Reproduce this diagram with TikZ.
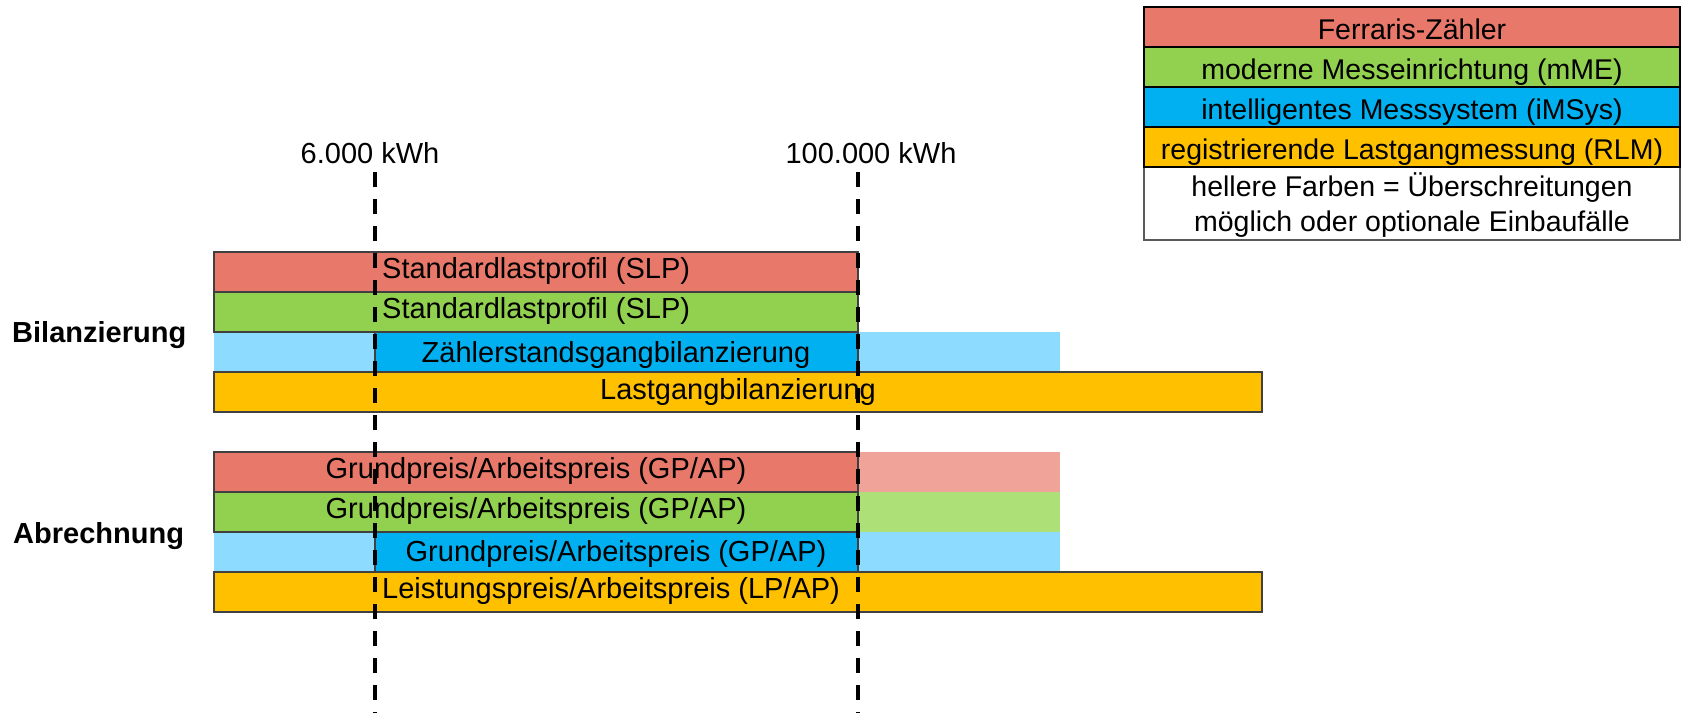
\documentclass[tikz,border=0pt]{standalone}
\usepackage{fontspec}
\setmainfont{Liberation Sans}
\definecolor{cred}{HTML}{E8796A}
\definecolor{clred}{HTML}{F0A398}
\definecolor{cgreen}{HTML}{92D050}
\definecolor{clgreen}{HTML}{ADE077}
\definecolor{cblue}{HTML}{00B0F0}
\definecolor{clblue}{HTML}{8DDCFF}
\definecolor{corange}{HTML}{FFC000}
\definecolor{bargray}{HTML}{404040}
\definecolor{boxgray}{HTML}{5A5A5A}
\begin{document}
\begin{tikzpicture}[x=1pt,y=-1pt,
  barbox/.style={draw=bargray, line width=1.8pt},
  legbox/.style={draw=black, line width=2pt},
  bartext/.style={inner sep=0pt, anchor=base, font=\fontsize{29}{34}\selectfont},
  legtext/.style={inner sep=0pt, anchor=base, font=\fontsize{28.5}{34}\selectfont},
  grouplabel/.style={inner sep=0pt, anchor=base west, font=\fontsize{29}{34}\selectfont\bfseries},
  kwhline/.style={line width=4pt, dash pattern=on 15pt off 12pt}]
\useasboundingbox (0,0) rectangle (1681,713);
\fill[white] (0,0) rectangle (1681,713);

% ---------- legend ----------
\fill[white] (1144,167) rectangle (1680,240);
\draw[draw=boxgray, line width=1.5pt] (1144,167) rectangle (1680,240);
\filldraw[legbox, fill=cred] (1144,7) rectangle (1680,47);
\filldraw[legbox, fill=cgreen] (1144,47) rectangle (1680,87);
\filldraw[legbox, fill=cblue] (1144,87) rectangle (1680,127);
\filldraw[legbox, fill=corange] (1144,127) rectangle (1680,167);
\node[legtext] (lg1) at (1412,39) {Ferraris-Zähler};
\node[legtext] (lg2) at (1412,79) {moderne Messeinrichtung (mME)};
\node[legtext] (lg3) at (1412,119) {intelligentes Messsystem (iMSys)};
\node[legtext] (lg4) at (1412,159) {registrierende Lastgangmessung (RLM)};
\node[legtext] (lg5) at (1412,196) {hellere Farben = Überschreitungen};
\node[legtext] (lg6) at (1412,231) {möglich oder optionale Einbaufälle};

% ---------- light extensions ----------
\fill[clblue] (214,332) rectangle (1060,372);
\fill[clred] (858,452) rectangle (1060,492);
\fill[clgreen] (858,492) rectangle (1060,532);
\fill[clblue] (214,532) rectangle (1060,572);

% ---------- Bilanzierung ----------
\filldraw[barbox, fill=cred] (214,252) rectangle (858,292);
\filldraw[barbox, fill=cgreen] (214,292) rectangle (858,332);
\filldraw[barbox, fill=cblue] (375,332) rectangle (858,372);
\filldraw[barbox, fill=corange] (214,372) rectangle (1262,412);
\node[bartext, anchor=base west] (b1) at (382,278) {Standardlastprofil (SLP)};
\node[bartext, anchor=base west] (b2) at (382,318) {Standardlastprofil (SLP)};
\node[bartext] (b3) at (616,362) {Zählerstandsgangbilanzierung};
\node[bartext] (b4) at (738,399) {Lastgangbilanzierung};

% ---------- Abrechnung ----------
\filldraw[barbox, fill=cred] (214,452) rectangle (858,492);
\filldraw[barbox, fill=cgreen] (214,492) rectangle (858,532);
\filldraw[barbox, fill=cblue] (375,532) rectangle (858,572);
\filldraw[barbox, fill=corange] (214,572) rectangle (1262,612);
\node[bartext] (a1) at (536,478) {Grundpreis/Arbeitspreis (GP/AP)};
\node[bartext] (a2) at (536,518) {Grundpreis/Arbeitspreis (GP/AP)};
\node[bartext] (a3) at (616,561) {Grundpreis/Arbeitspreis (GP/AP)};
\node[bartext, anchor=base west] (a4) at (382,598) {Leistungspreis/Arbeitspreis (LP/AP)};

% ---------- group labels ----------
\node[grouplabel] (bil) at (12,342) {Bilanzierung};
\node[grouplabel] (abr) at (13,543) {Abrechnung};

% ---------- thresholds ----------
\node[bartext] (k1) at (370,163) {6.000 kWh};
\node[bartext] (k2) at (871,163) {100.000 kWh};
\coordinate (d1top) at (375,172);
\coordinate (d1bot) at (375,713);
\coordinate (d2top) at (858,172);
\coordinate (d2bot) at (858,713);
\draw[kwhline] (d1top) -- (d1bot);
\draw[kwhline] (d2top) -- (d2bot);
\end{tikzpicture}
\end{document}
